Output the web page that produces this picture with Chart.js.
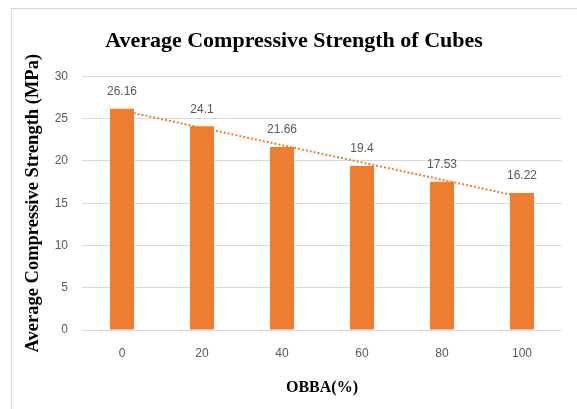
<!DOCTYPE html>
<html>
<head>
<meta charset="utf-8">
<script src="https://cdn.jsdelivr.net/npm/chart.js@4"></script>
<style>
  html, body { margin: 0; padding: 0; background: #fff; }
  body { width: 577px; height: 409px; position: relative; overflow: hidden; }
  #box {
    position: absolute; left: 11px; top: 8px; width: 566px; height: 401px;
    border-left: 1px solid #d9d9d9; border-top: 1px solid #d9d9d9;
    box-sizing: border-box;
  }
  #wrap { position: absolute; left: 11px; top: 8px; width: 566px; height: 401px; }
</style>
</head>
<body>
<div id="box"></div>
<div id="wrap"><canvas id="chart"></canvas></div>
<script>
// --- data ---
const categories = ['0', '20', '40', '60', '80', '100'];
const strength = [26.16, 24.1, 21.66, 19.4, 17.53, 16.22];
// linear trendline ends (first and last category)
const trend = [25.96, null, null, null, null, 15.73];
const yTicks = [0, 5, 10, 15, 20, 25, 30];

const ORANGE = '#ED7D31';
const GREY_TEXT = '#595959';
const SERIF = '"Liberation Serif", "Times New Roman", serif';
const SANS = '"Liberation Sans", Arial, sans-serif';

// draws the value labels above the bars
const barLabels = {
  id: 'barLabels',
  afterDatasetsDraw(chart) {
    const meta = chart.getDatasetMeta(0);
    const ctx = chart.ctx;
    ctx.save();
    ctx.font = '12px ' + SANS;
    ctx.fillStyle = GREY_TEXT;
    ctx.textAlign = 'center';
    ctx.textBaseline = 'middle';
    meta.data.forEach((bar, i) => {
      ctx.fillText(String(strength[i]), bar.x, bar.y - 17);
    });
    ctx.restore();
  }
};

new Chart(document.getElementById('chart'), {
  data: {
    labels: categories,
    datasets: [
      {
        type: 'bar',
        data: strength,
        backgroundColor: ORANGE,
        barPercentage: 0.3,
        categoryPercentage: 1,
        order: 1
      },
      {
        type: 'line',
        data: trend,
        spanGaps: true,
        borderColor: ORANGE,
        borderWidth: 2,
        borderDash: [2, 2],
        pointRadius: 0,
        fill: false,
        order: 2
      }
    ]
  },
  options: {
    responsive: true,
    maintainAspectRatio: false,
    animation: false,
    // equal left/right padding keeps the title centred on the whole box
    layout: { padding: { left: 15, right: 15, top: 0, bottom: 0 } },
    plugins: {
      legend: { display: false },
      tooltip: { enabled: false },
      title: {
        display: true,
        text: 'Average Compressive Strength of Cubes',
        color: '#000',
        font: { family: SERIF, size: 22, weight: 'bold' },
        padding: { top: 20, bottom: 22 }
      }
    },
    scales: {
      x: {
        grid: { display: false, drawTicks: false },
        border: { display: false },
        ticks: { color: GREY_TEXT, padding: 16, font: { family: SANS, size: 12 } },
        title: {
          display: true,
          text: 'OBBA(%)',
          color: '#000',
          font: { family: SERIF, size: 16, weight: 'bold' },
          padding: { top: 0, bottom: 12 }
        },
        afterFit: (scale) => { scale.height = 79; }
      },
      y: {
        min: yTicks[0],
        max: yTicks[yTicks.length - 1],
        grid: { color: '#d9d9d9', drawTicks: false },
        border: { display: false },
        ticks: { stepSize: 5, color: GREY_TEXT, padding: 14, font: { family: SANS, size: 12 } },
        title: {
          display: true,
          text: 'Average Compressive Strength (MPa)',
          color: '#000',
          font: { family: SERIF, size: 18.5, weight: 'bold' },
          padding: { top: -4, bottom: 0 }
        },
        afterFit: (scale) => { scale.width = 56; }
      }
    }
  },
  plugins: [barLabels]
});
</script>
</body>
</html>
